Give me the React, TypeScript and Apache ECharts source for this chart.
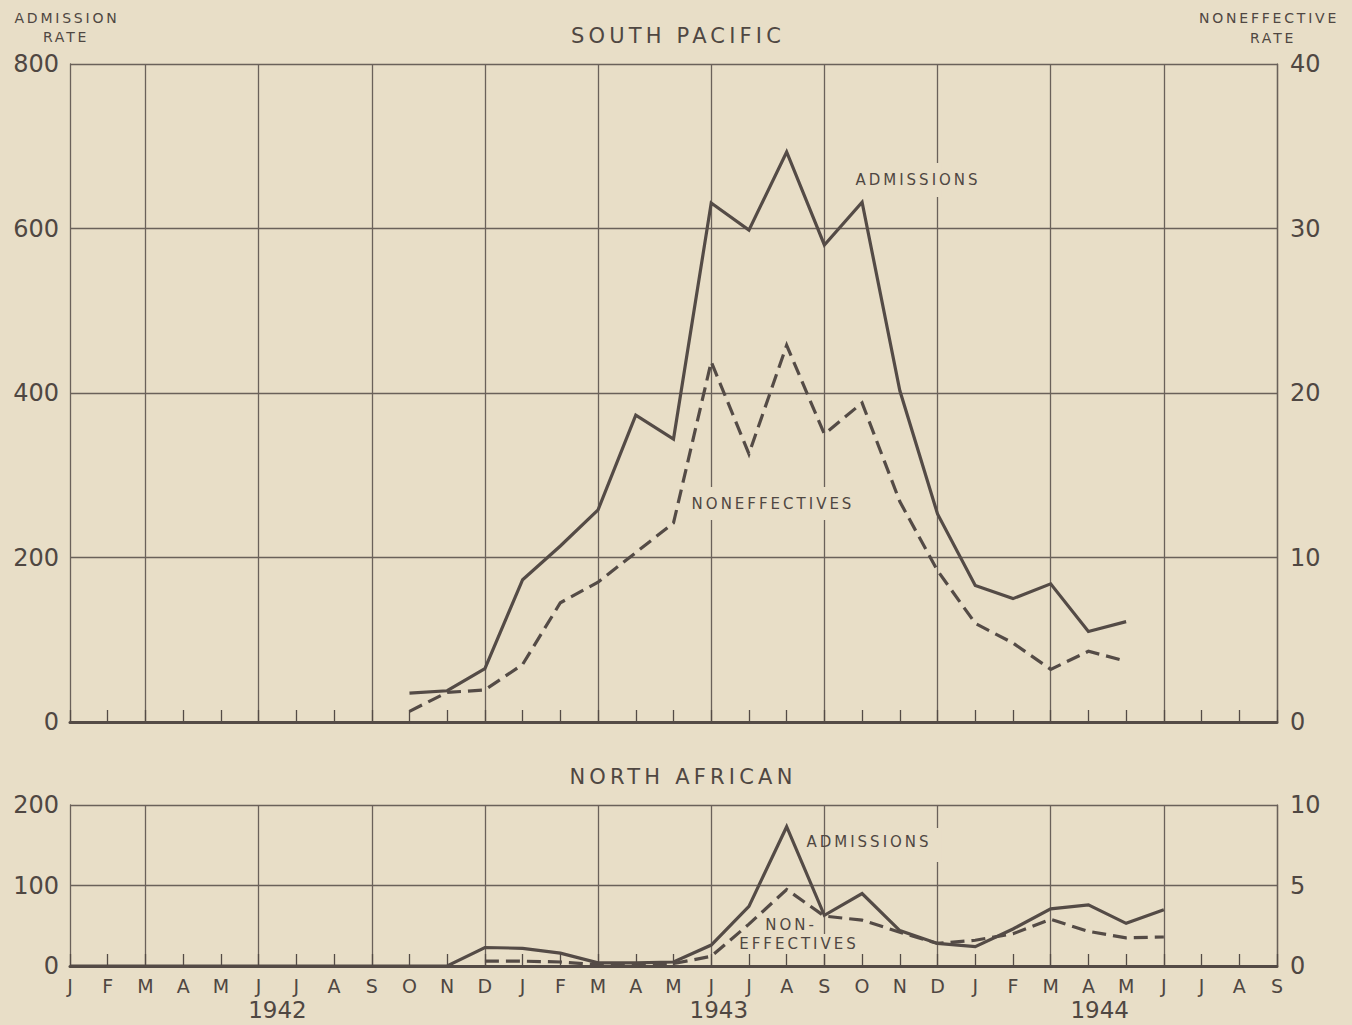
import React, { useEffect, useRef } from "react";
import * as echarts from "echarts";

// ---------- data ----------
const months = [
  "J", "F", "M", "A", "M", "J", "J", "A", "S", "O", "N", "D",
  "J", "F", "M", "A", "M", "J", "J", "A", "S", "O", "N", "D",
  "J", "F", "M", "A", "M", "J", "J", "A", "S",
];
const years = ["1942", "1943", "1944"];
// month index (fractional) under which each year label is centred
const yearAt = [5.5, 17.2, 27.3];

// South Pacific – admission rate (left axis) and noneffective rate (right axis)
const spAdmissions = [
  null, null, null, null, null, null, null, null, null,
  35, 38, 65,
  173, 214, 258, 373, 344, 631, 598, 693, 580, 632, 403, 253,
  166, 150, 168, 110, 122,
  null, null, null, null,
];
const spNoneffective = [
  null, null, null, null, null, null, null, null, null,
  0.65, 1.8, 1.95,
  3.5, 7.25, 8.5, 10.3, 12.1, 21.9, 16.3, 22.9, 17.5, 19.4, 13.4, 9.2,
  6.0, 4.8, 3.2, 4.3, 3.7,
  null, null, null, null,
];

// North African
const naAdmissions = [
  0, 0, 0, 0, 0, 0, 0, 0, 0, 0, 0, 23,
  22, 16, 4, 4, 5, 26, 74, 173, 63, 90, 44, 28,
  24, 46, 71, 76, 53, 70,
  null, null, null,
];
const naNoneffective = [
  null, null, null, null, null, null, null, null, null, null, null, 0.3,
  0.3, 0.25, 0.08, 0.08, 0.15, 0.6, 2.6, 4.75, 3.1, 2.85, 2.1, 1.4,
  1.6, 2.0, 2.9, 2.15, 1.75, 1.8,
  null, null, null,
];

const spLeftTicks = { min: 0, max: 800, interval: 200 };
const spRightTicks = { min: 0, max: 40, interval: 10 };
const naLeftTicks = { min: 0, max: 200, interval: 100 };
const naRightTicks = { min: 0, max: 10, interval: 5 };

// ---------- style / layout ----------
const W = 1352;
const H = 1025;
const PAPER = "#e8dec7";
const INK = "#544b46";
const GRIDC = "#6a615a";
const TEXT = "#4f4742";
const FONT = '"DejaVu Sans", sans-serif';
const GL = 70;
const GR = 75;
const PW = W - GL - GR;
const T1 = 64, H1 = 658;
const T2 = 805, H2 = 161;
const gx = (i: number) => GL + (i * PW) / (months.length - 1);

function xAxis(gridIndex: number, showLabels: boolean) {
  return {
    type: "category",
    gridIndex,
    data: months,
    boundaryGap: false,
    axisLine: { show: true, onZero: false, lineStyle: { color: INK, width: 3 } },
    axisTick: { show: true, inside: true, length: 12, interval: 0, lineStyle: { color: INK, width: 1.3 } },
    axisLabel: { show: showLabels, interval: 0, margin: 10, fontSize: 19, color: TEXT, fontFamily: FONT },
    splitLine: { show: true, interval: (i: number) => i % 3 === 2, lineStyle: { color: GRIDC, width: 1.3 } },
  };
}

function yAxis(gridIndex: number, position: string, t: any, split: boolean) {
  return {
    type: "value",
    gridIndex,
    position,
    min: t.min,
    max: t.max,
    interval: t.interval,
    axisLine: { show: true, lineStyle: { color: GRIDC, width: 1.3 } },
    axisTick: { show: false },
    axisLabel: { fontSize: 24, color: TEXT, margin: position === "left" ? 11 : 13, fontFamily: FONT },
    splitLine: { show: split, lineStyle: { color: GRIDC, width: 1.3 } },
  };
}

function label(text: string, x: number, y: number, size: number) {
  return {
    type: "text",
    x,
    y,
    z: 5,
    style: {
      text,
      fill: TEXT,
      font: `${size}px ${FONT}`,
      textAlign: "center",
      textVerticalAlign: "middle",
    },
  };
}

function gap(i: number, y0: number, y1: number) {
  return {
    type: "rect",
    z: 1,
    silent: true,
    shape: { x: gx(i) - 4, y: y0, width: 8, height: y1 - y0 },
    style: { fill: PAPER },
  };
}

function line(xi: number, yi: number, data: any[], dashed: boolean) {
  return {
    type: "line",
    xAxisIndex: xi,
    yAxisIndex: yi,
    data,
    symbol: "none",
    z: 3,
    connectNulls: false,
    lineStyle: { color: INK, width: 3.2, type: dashed ? [14, 7] : "solid", join: "miter" },
  };
}

export default function App() {
  const ref = useRef<HTMLDivElement>(null);

  useEffect(() => {
    document.body.style.margin = "0";
    document.body.style.background = PAPER;
    const el = ref.current;
    if (!el) return;
    const chart = echarts.init(el, undefined, { renderer: "svg" });
    chart.setOption({
      animation: false,
      backgroundColor: PAPER,
      grid: [
        { left: GL, right: GR, top: T1, height: H1 },
        { left: GL, right: GR, top: T2, height: H2 },
      ],
      xAxis: [xAxis(0, false), xAxis(1, true)],
      yAxis: [
        yAxis(0, "left", spLeftTicks, true),
        yAxis(0, "right", spRightTicks, false),
        yAxis(1, "left", naLeftTicks, true),
        yAxis(1, "right", naRightTicks, false),
      ],
      series: [
        line(0, 0, spAdmissions, false),
        line(0, 1, spNoneffective, true),
        line(1, 2, naAdmissions, false),
        line(1, 3, naNoneffective, true),
      ],
      graphic: [
        gap(23, 163, 197),
        gap(17, 487, 520),
        gap(20, 487, 520),
        gap(23, 828, 862),
        gap(20, 934, 954),
        label("SOUTH PACIFIC", 678, 36, 21),
        label("NORTH AFRICAN", 683, 777, 21),
        label("ADMISSION", 67, 18, 14),
        label("RATE", 66, 37, 14),
        label("NONEFFECTIVE", 1269, 18, 14),
        label("RATE", 1273, 38, 14),
        label("ADMISSIONS", 918, 180, 15),
        label("NONEFFECTIVES", 773, 504, 15),
        label("ADMISSIONS", 869, 842, 15),
        label("NON-", 791, 925, 15),
        label("EFFECTIVES", 799, 944, 15),
        ...years.map((y, k) => label(y, gx(yearAt[k]), 1010, 23)),
      ],
    });
    const svg = el.querySelector("svg");
    if (svg) {
      svg.querySelectorAll("text").forEach((t) => {
        const s = (t.textContent || "").trim();
        if (/^[A-Z\- ]{3,}$/.test(s)) (t as SVGTextElement).style.letterSpacing = "0.2em";
      });
    }
    return () => chart.dispose();
  }, []);

  return <div ref={ref} style={{ width: W, height: H, background: PAPER }} />;
}
